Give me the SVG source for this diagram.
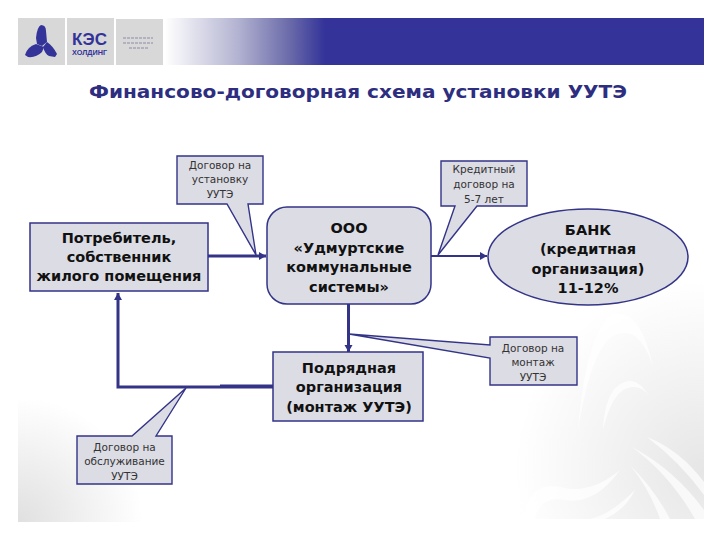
<svg xmlns="http://www.w3.org/2000/svg" width="720" height="540" viewBox="0 0 720 540">
<style>
.box{fill:#dcdce4;stroke:#333388;stroke-width:1.5}
.note{fill:#dcdce4;stroke:#333388;stroke-width:1.4}
.line{fill:none;stroke:#333388;stroke-width:3}
.thin{fill:none;stroke:#333388;stroke-width:2}
.thick{fill:none;stroke:#333388;stroke-width:4}
.b{font-family:"DejaVu Sans",Verdana,sans-serif;font-weight:bold;font-size:14.5px;fill:#111;text-anchor:middle}
.n{font-family:"DejaVu Sans",Verdana,sans-serif;font-size:10.5px;fill:#333;text-anchor:middle}
.g{fill:#d8d8d8}
.l{fill:#333399}
.s{fill:#fff;opacity:.7}
</style>
<defs>
<linearGradient id="band" gradientUnits="userSpaceOnUse" x1="165" y1="0" x2="325" y2="0">
<stop offset="0" stop-color="#fff"/><stop offset="0.45" stop-color="#b4b4d2"/><stop offset="0.78" stop-color="#6a6aaa"/><stop offset="1" stop-color="#333399"/>
</linearGradient>
<radialGradient id="bl" gradientUnits="userSpaceOnUse" cx="18" cy="522" r="125">
<stop offset="0" stop-color="#e0e0e0"/><stop offset="1" stop-color="#fff"/>
</radialGradient>
<radialGradient id="br" gradientUnits="userSpaceOnUse" cx="704" cy="470" r="190">
<stop offset="0" stop-color="#e6e6e6"/><stop offset="1" stop-color="#fff"/>
</radialGradient>
<marker id="a" markerUnits="userSpaceOnUse" markerWidth="9" markerHeight="9" refX="7" refY="4" orient="auto"><path d="M0 0L7 4L0 8Z" fill="#333388"/></marker>
</defs>
<rect width="720" height="540" fill="#fff"/>
<rect x="18" y="400" width="130" height="122" fill="url(#bl)"/>
<rect x="514" y="280" width="190" height="239" fill="url(#br)"/>
<g>
<path class="s" d="M653 367Q640 305 610 315Q585 340 578 430Q592 345 615 335Q640 325 653 367Z"/>
<path class="s" d="M650 398Q635 370 615 388Q604 402 603 430Q612 392 628 388Q642 384 650 398Z"/>
<path class="s" d="M647 437Q680 450 704 482V495Q680 462 647 437Z"/>
<path class="s" d="M632 447Q675 470 704 510V519H695Q670 475 632 447Z"/>
<path class="s" d="M630 465Q655 490 670 519H660Q650 490 630 465Z"/>
<path class="s" d="M620 470Q590 495 560 487Q530 480 522 519H535Q540 495 565 500Q595 505 620 470Z"/>
<path class="s" d="M635 490Q610 515 590 519H605Q625 510 635 490Z"/>
</g>
<g id="header">
<rect class="g" x="18" y="18" width="47" height="47"/>
<rect class="g" x="67" y="18" width="47" height="47"/>
<rect class="g" x="116" y="19" width="47" height="46"/>
<rect x="165" y="18" width="539" height="47" fill="url(#band)"/>
<path class="l" d="M36 38Q37 27 41 25Q46 25 46 31L47 42L42 46L37 44Z"/>
<path class="l" d="M25 55Q27 47 36 44L44 47L42 52Q36 58 28 57Z"/>
<path class="l" d="M43 47L47 42Q53 46 57 54L55 57L49 56Q45 54 43 47Z"/>
<text x="89.500" y="44.500" text-anchor="middle" font-family="'Liberation Sans',sans-serif" font-weight="bold" font-size="17" fill="#333399" textLength="35" lengthAdjust="spacingAndGlyphs">КЭС</text>
<text x="89.500" y="54.500" text-anchor="middle" font-family="'Liberation Sans',sans-serif" font-weight="bold" font-size="7.500" fill="#333399" textLength="35" lengthAdjust="spacingAndGlyphs">ХОЛДИНГ</text>
<g stroke="#8a8aa8" stroke-width="1"><path d="M123 38H153M123 43H153M129 48H148" stroke-dasharray="3 1"/></g>
</g>
<text id="title" x="358" y="98" text-anchor="middle" font-family="'DejaVu Sans',Verdana,sans-serif" font-weight="bold" font-size="18" fill="#2e2e80" textLength="538" lengthAdjust="spacingAndGlyphs">Финансово-договорная схема установки УУТЭ</text>
<g id="connectors">
<path class="line" d="M208 256H266" marker-end="url(#a)"/>
<path class="thin" d="M431 256H487" marker-end="url(#a)"/>
<path class="line" d="M348.500 304V352" marker-end="url(#a)"/>
<path class="thick" d="M273 386.500H220"/>
<path class="line" d="M220 387H118V293" marker-end="url(#a)"/>
</g>
<g id="note-install">
<path class="note" d="M177 156H263V204H248L256 255L227 204H177Z"/>
<text class="n" x="220" y="169">Договор на</text><text class="n" x="220" y="183">установку</text><text class="n" x="220" y="198">УУТЭ</text>
</g>
<g id="note-credit">
<path class="note" d="M441 161H527V206H477L438 255L455 206H441Z"/>
<text class="n" x="484" y="173">Кредитный</text><text class="n" x="484" y="188">договор на</text><text class="n" x="484" y="203">5-7 лет</text>
</g>
<g id="note-mount">
<path class="note" d="M490 337H577V385H490V358L349 334L490 345Z"/>
<text class="n" x="533" y="352">Договор на</text><text class="n" x="533" y="366">монтаж</text><text class="n" x="533" y="381">УУТЭ</text>
</g>
<g id="note-service">
<path class="note" d="M77 436H132L186 388L156 436H172V484H77Z"/>
<text class="n" x="124.500" y="451">Договор на</text><text class="n" x="124.500" y="465">обслуживание</text><text class="n" x="124.500" y="480">УУТЭ</text>
</g>
<g id="consumer">
<rect class="box" x="30" y="223" width="178" height="68"/>
<text class="b" x="119" y="243">Потребитель,</text><text class="b" x="119" y="262">собственник</text><text class="b" x="119" y="281">жилого помещения</text>
</g>
<g id="company">
<rect class="box" x="267" y="207" width="164" height="97" rx="20"/>
<text class="b" x="349" y="233">ООО</text><text class="b" x="349" y="253">«Удмуртские</text><text class="b" x="349" y="272">коммунальные</text><text class="b" x="349" y="292">системы»</text>
</g>
<g id="bank">
<ellipse class="box" cx="588" cy="257" rx="100" ry="48"/>
<text class="b" x="588" y="235">БАНК</text><text class="b" x="588" y="254">(кредитная</text><text class="b" x="588" y="274">организация)</text><text class="b" x="588" y="293">11-12%</text>
</g>
<g id="contractor">
<rect class="box" x="273" y="352" width="150" height="69"/>
<text class="b" x="349" y="373">Подрядная</text><text class="b" x="349" y="392">организация</text><text class="b" x="349" y="412">(монтаж УУТЭ)</text>
</g>
</svg>
